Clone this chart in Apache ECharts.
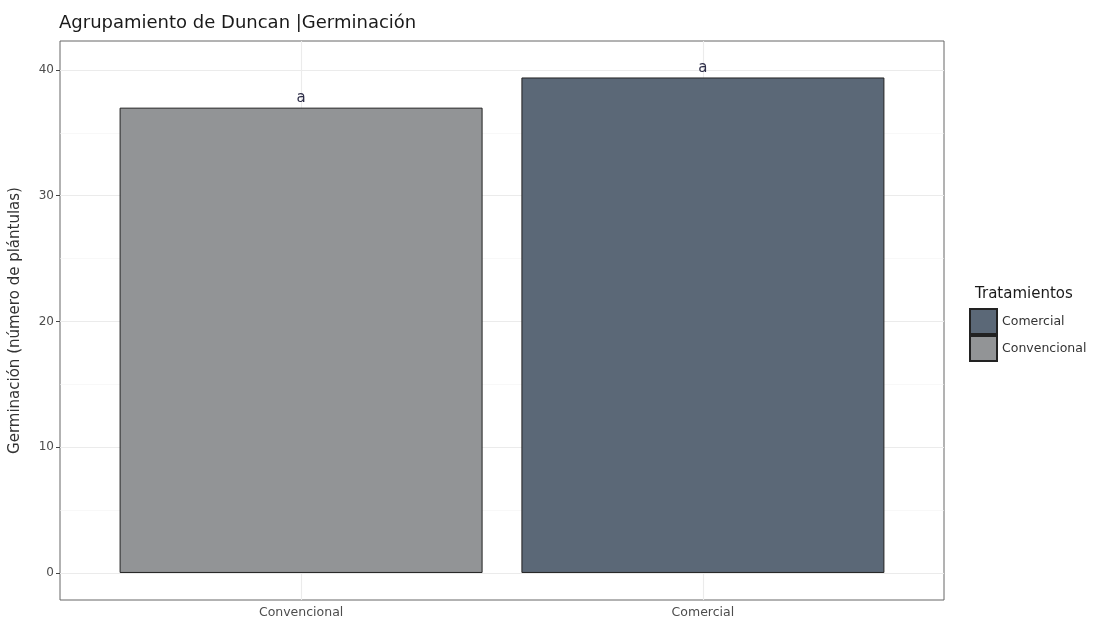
<!DOCTYPE html>
<html>
<head>
<meta charset="utf-8">
<script src="https://cdn.jsdelivr.net/npm/echarts@6/dist/echarts.min.js"></script>
<style>html,body{margin:0;padding:0;background:#fff;}#c{width:1097px;height:626px;}</style>
</head>
<body>
<div id="c"></div>
<script>
var categories = ['Convencional', 'Comercial'];
var values = [37.0, 39.4];
var groupLetters = ['a', 'a'];
var legendOrder = ['Comercial', 'Convencional'];
var colors = {'Convencional': '#929496', 'Comercial': '#5b6877'};
var yTicks = [0, 10, 20, 30, 40];
var yMinor = [5, 15, 25, 35];
var xTicks = [1, 2];

var FONT = 'DejaVu Sans';
var chart = echarts.init(document.getElementById('c'));

var series = categories.map(function (cat, i) {
  return {
    name: cat,
    type: 'bar',
    z: 3,
    barWidth: 363,
    barGap: '-100%',
    data: [[xTicks[i], values[i]]],
    itemStyle: { color: colors[cat], borderColor: '#222', borderWidth: 1 },
    label: {
      show: true, position: 'top', distance: 2,
      formatter: function () { return groupLetters[i]; },
      fontFamily: FONT, fontSize: 15, color: '#2e2e48'
    }
  };
});

var gridLines = [];
yTicks.forEach(function (v) { gridLines.push({ yAxis: v, lineStyle: { color: '#ebebeb', width: 1.1, type: 'solid' } }); });
yMinor.forEach(function (v) { gridLines.push({ yAxis: v, lineStyle: { color: '#f4f4f4', width: 0.6, type: 'solid' } }); });
xTicks.forEach(function (v) { gridLines.push({ xAxis: v, lineStyle: { color: '#ebebeb', width: 1.1, type: 'solid' } }); });

series.unshift({
  name: 'grid',
  type: 'scatter',
  z: 1,
  data: [],
  silent: true,
  markLine: {
    z: 1,
    silent: true, symbol: 'none', label: { show: false },
    animation: false,
    data: gridLines
  }
});

chart.setOption({
  animation: false,
  backgroundColor: '#ffffff',
  title: [
    { text: 'Agrupamiento de Duncan |Germinación', left: 54, top: 9,
      textStyle: { fontFamily: FONT, fontSize: 18, fontWeight: 'normal', color: '#1a1a1a' } },
    { text: 'Tratamientos', left: 970, top: 282,
      textStyle: { fontFamily: FONT, fontSize: 15, fontWeight: 'normal', color: '#1a1a1a' } }
  ],
  legend: {
    orient: 'vertical', left: 969, top: 308,
    data: legendOrder, icon: 'rect',
    itemWidth: 27, itemHeight: 25, itemGap: 0, padding: 0,
    textStyle: { fontFamily: FONT, fontSize: 12.5, color: '#333' }
  },
  grid: {
    left: 57, top: 41, width: 887, height: 559,
    show: true, borderColor: '#666', borderWidth: 1, backgroundColor: '#fff'
  },
  xAxis: {
    type: 'value', min: 0.4, max: 2.6,
    axisLine: { show: false },
    splitLine: { show: false },
    axisTick: { show: true, customValues: xTicks, length: 4, lineStyle: { color: '#444' } },
    axisLabel: {
      customValues: xTicks, margin: 6,
      formatter: function (v) { return categories[Math.round(v) - 1] || ''; },
      fontFamily: FONT, fontSize: 12.5, color: '#4d4d4d'
    }
  },
  yAxis: {
    type: 'value', min: -2.15, max: 42.3,
    name: 'Germinación (número de plántulas)', nameLocation: 'middle', nameGap: 37, nameRotate: 90,
    nameTextStyle: { fontFamily: FONT, fontSize: 15, color: '#333' },
    axisLine: { show: false },
    splitLine: { show: false },
    axisTick: { show: true, customValues: yTicks, length: 4, lineStyle: { color: '#444' } },
    axisLabel: { customValues: yTicks, margin: 6, fontFamily: FONT, fontSize: 12, color: '#4d4d4d' }
  },
  series: series
});
</script>
</body>
</html>
